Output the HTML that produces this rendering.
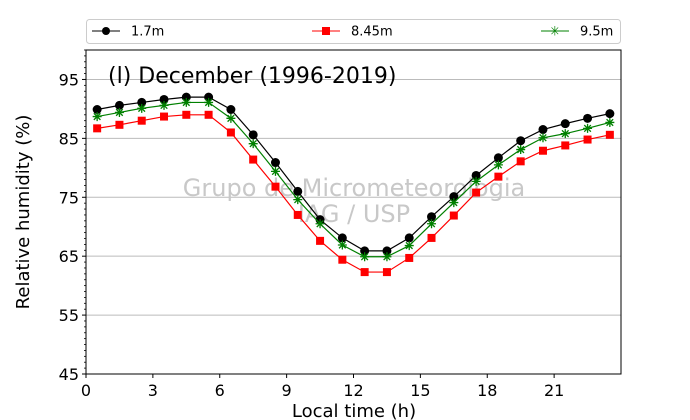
<!DOCTYPE html>
<html><head><meta charset="utf-8"><style>
body{margin:0;background:#fff;}
svg{display:block;font-family:"DejaVu Sans","Liberation Sans",sans-serif;}
</style></head><body>
<svg id="chart" width="690" height="420" viewBox="0 0 690 420">
<g id="grid"></g>
<text x="354" y="196" font-size="24" fill="#c8c8c8" text-anchor="middle">Grupo de Micrometeorologia</text>
<text x="354" y="222" font-size="24" fill="#c8c8c8" text-anchor="middle">IAG / USP</text>
<g id="series"></g>
<rect x="86" y="50" width="535" height="324" fill="none" stroke="#000" stroke-width="1"/>
<g id="axes"></g>
<text x="108" y="83" font-size="22" fill="#000">(l) December (1996-2019)</text>
<text x="354" y="417" font-size="18" text-anchor="middle">Local time (h)</text>
<text transform="translate(29,212) rotate(-90)" font-size="18" text-anchor="middle">Relative humidity (%)</text>
<g>
<rect x="86.5" y="19.5" width="534" height="24" rx="3" fill="#fff" stroke="#ccc"/>
<g><line x1="92" y1="31" x2="120" y2="31" stroke="#000"/><circle cx="106" cy="31" r="4" fill="#000"/><text x="131" y="35.5" font-size="13">1.7m</text></g>
<g><line x1="312" y1="31" x2="340" y2="31" stroke="red"/><rect x="322" y="27" width="8" height="8" fill="red"/><text x="351" y="35.5" font-size="13">8.45m</text></g>
<g><line x1="541" y1="31" x2="569" y2="31" stroke="green"/><text x="555" y="35.5" font-size="13" fill="green" text-anchor="middle">✳</text><text x="580" y="35.5" font-size="13">9.5m</text></g>
</g>
</svg>
<script>
const hours=[0.5,1.5,2.5,3.5,4.5,5.5,6.5,7.5,8.5,9.5,10.5,11.5,12.5,13.5,14.5,15.5,16.5,17.5,18.5,19.5,20.5,21.5,22.5,23.5];
const rh17=[89.9,90.6,91.1,91.6,92.0,92.0,89.9,85.6,80.9,76.0,71.2,68.1,65.9,65.9,68.1,71.7,75.1,78.7,81.7,84.6,86.5,87.5,88.4,89.2];
const rh845=[86.7,87.3,88.0,88.7,89.0,89.0,86.0,81.4,76.8,72.0,67.6,64.4,62.3,62.3,64.7,68.1,71.9,75.8,78.5,81.1,82.9,83.8,84.8,85.6];
const rh95=[88.7,89.4,90.1,90.6,91.1,91.1,88.4,84.1,79.4,74.6,70.5,66.9,64.9,64.9,66.8,70.5,74.1,77.7,80.5,83.1,85.1,85.8,86.7,87.7];
const xTicks=[0,3,6,9,12,15,18,21];
const yTicks=[45,55,65,75,85,95];
const NS="http://www.w3.org/2000/svg";
const X0=86,X1=621,Y0=374,Y1=50,XMIN=0,XMAX=24,YMIN=45,YMAX=100;
function sx(v){return X0+(v-XMIN)/(XMAX-XMIN)*(X1-X0);}
function sy(v){return Y0-(v-YMIN)/(YMAX-YMIN)*(Y0-Y1);}
function mk(t,a,p){const e=document.createElementNS(NS,t);for(const k in a)e.setAttribute(k,a[k]);p.appendChild(e);return e;}
const grid=document.getElementById('grid'),axes=document.getElementById('axes'),ser=document.getElementById('series');
yTicks.forEach(v=>{
 if(v>YMIN){const l=mk('line',{x1:X0,x2:X1,y1:sy(v),y2:sy(v),stroke:'#bbb','stroke-width':1},grid);
 
 }
 const t=mk('line',{x1:X0-4,x2:X0,y1:sy(v),y2:sy(v),stroke:'#000'},axes);
 
 
 const tx=mk('text',{x:X0-7,y:sy(v)+6,'font-size':16,'text-anchor':'end'},axes);tx.textContent=v;
 
 
});
for(let v=YMIN;v<=YMAX;v+=1){if(yTicks.includes(v))continue;const m=mk('line',{x1:X0-2,x2:X0,y1:sy(v),y2:sy(v),stroke:'#000','stroke-width':0.8},axes);
 
 }
xTicks.forEach(v=>{
 const t=mk('line',{x1:sx(v),x2:sx(v),y1:Y0,y2:Y0+4,stroke:'#000'},axes);
 
 
 const tx=mk('text',{x:sx(v),y:Y0+22,'font-size':16,'text-anchor':'middle'},axes);tx.textContent=v;
 
 
});
function draw(vals,color,marker,name){
 const g=mk('g',{},ser);
 
 
 mk('polyline',{points:hours.map((h,i)=>sx(h)+','+sy(vals[i])).join(' '),fill:'none',stroke:color,'stroke-width':1.2},g);
 hours.forEach((h,i)=>{const x=sx(h),y=sy(vals[i]);let m;
  if(marker==='o')m=mk('circle',{cx:x,cy:y,r:4.5,fill:color},g);
  else if(marker==='s')m=mk('rect',{x:x-4,y:y-4,width:8,height:8,fill:color},g);
  else{m=mk('path',{d:`M${x-4.5} ${y}H${x+4.5}M${x} ${y-4.5}V${y+4.5}M${x-3.3} ${y-3.3}L${x+3.3} ${y+3.3}M${x-3.3} ${y+3.3}L${x+3.3} ${y-3.3}`,stroke:color,'stroke-width':1.3,fill:'none'},g);}
  
  
 });
}
draw(rh17,'#000','o','1.7m');
draw(rh845,'red','s','8.45m');
draw(rh95,'green','*','9.5m');
</script>
</body></html>
